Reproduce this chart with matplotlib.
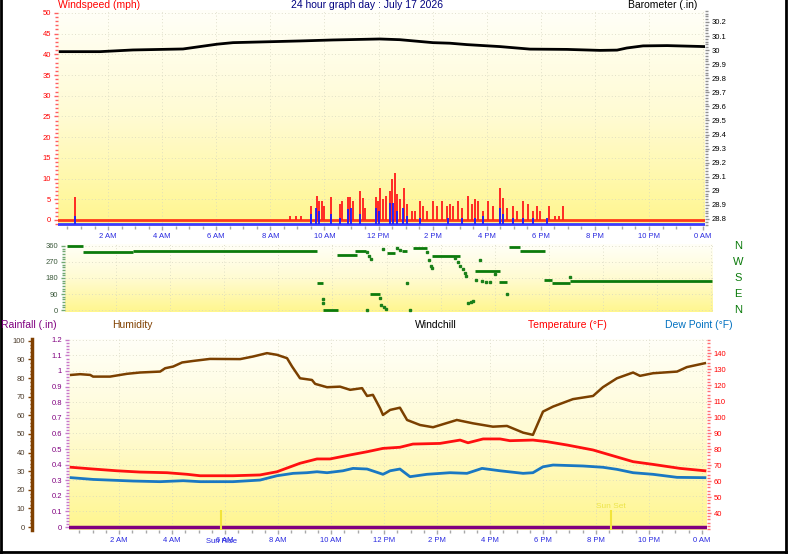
import matplotlib
matplotlib.use('Agg')
import matplotlib.pyplot as plt
import numpy as np
from matplotlib.colors import LinearSegmentedColormap
from matplotlib.ticker import MultipleLocator, FixedLocator, FuncFormatter
from matplotlib.lines import Line2D
import matplotlib.transforms as mtransforms

plt.rcParams['font.family'] = ['Liberation Sans', 'DejaVu Sans']

W, H = 798, 554

# ---- data, time in hours since midnight ----
hour_ticks = [2, 4, 6, 8, 10, 12, 14, 16, 18, 20, 22, 24]
hour_labels = ['2 AM', '4 AM', '6 AM', '8 AM', '10 AM', '12 PM',
               '2 PM', '4 PM', '6 PM', '8 PM', '10 PM', '0 AM']

baro_t = [0.23, 1.70, 2.92, 4.77, 6.03, 6.62, 9.09, 10.31, 12.05, 12.79, 14.01,
          14.64, 15.27, 16.49, 17.60, 18.97, 20.19, 20.82, 21.18, 21.78, 22.67, 24.07]
baro_v = [29.989, 29.989, 30.001, 30.008, 30.042, 30.053, 30.065, 30.072, 30.079,
          30.074, 30.053, 30.049, 30.039, 30.025, 30.007, 30.005, 29.998, 30.000,
          30.015, 30.030, 30.032, 30.025]

gust_t = [0.78, 8.73, 8.95, 9.13, 9.50, 9.73, 9.80, 9.91, 9.98, 10.24, 10.57, 10.65,
          10.87, 10.95, 11.06, 11.32, 11.43, 11.50, 11.91, 11.98, 12.05, 12.17, 12.28,
          12.43, 12.50, 12.61, 12.68, 12.79, 12.94, 13.05, 13.24, 13.35, 13.53, 13.64,
          13.79, 14.01, 14.16, 14.35, 14.53, 14.64, 14.75, 14.94, 15.09, 15.31, 15.46,
          15.57, 15.68, 15.86, 16.05, 16.23, 16.49, 16.60, 16.75, 16.97, 17.12, 17.34,
          17.53, 17.71, 17.86, 17.97, 18.30, 18.53, 18.68, 18.83]
gust_v = [5.5, 1, 1, 1, 3.4, 5.8, 4.6, 4.6, 3.4, 5.6, 3.8, 4.6, 5.6, 5.6, 4.6, 7.0,
          5.4, 3.0, 5.6, 4.6, 7.8, 5.0, 5.8, 7.0, 9.8, 11.4, 6.2, 5.0, 7.8, 3.8, 2.2,
          2.2, 4.6, 3.4, 2.2, 4.6, 3.4, 4.6, 3.4, 3.8, 3.4, 4.6, 3.0, 5.8, 3.8, 5.0,
          4.6, 2.2, 4.6, 3.4, 7.8, 5.4, 3.0, 3.4, 2.2, 4.6, 3.8, 2.2, 3.4, 2.2, 3.4,
          1, 1, 3.4]

avg_t = [0.78, 9.50, 9.69, 9.80, 10.24, 10.57, 10.87, 10.98, 11.32, 11.91, 12.02,
         12.43, 12.54, 12.68, 12.90, 13.05, 13.53, 14.57, 15.09, 15.57, 15.86, 16.49,
         16.60, 16.97, 17.34, 17.71, 18.23]
avg_v = [1.0, 1.5, 3.0, 2.2, 1.5, 0.5, 2.6, 3.0, 1.4, 3.0, 2.2, 4.0, 4.0, 2.2, 3.0,
         1.0, 0.5, 0.5, 0.5, 0.5, 1.0, 3.0, 1.4, 0.5, 0.5, 0.5, 0.5]

dir_seg_start = [0.18, 0.78, 2.62, 9.43, 9.65, 10.17, 10.83, 11.39, 12.01, 12.57,
                 12.98, 13.68, 15.27, 16.16, 16.52, 16.93, 17.82, 18.11, 18.78]
dir_seg_end = [0.78, 2.62, 9.43, 9.65, 10.20, 10.91, 11.24, 11.76, 12.31, 12.75,
               13.49, 14.71, 16.19, 16.45, 16.93, 17.86, 18.11, 18.78, 24.03]
dir_seg_deg = [357, 326, 334, 154, 0, 311, 334, 90, 319, 330, 347, 304, 218, 159,
               356, 334, 169, 154, 165]

dir_dot_t = [9.65, 9.65, 11.28, 11.35, 11.42, 11.28, 11.76, 11.79, 11.90, 11.98,
             11.87, 12.38, 12.50, 12.75, 12.87, 13.49, 13.57, 13.64, 13.68, 14.53,
             14.64, 14.71, 14.82, 14.90, 14.94, 15.01, 15.12, 15.19, 15.45, 15.31,
             15.53, 15.67, 15.82, 16.45, 18.78, 16.0]
dir_dot_deg = [62, 40, 326, 305, 287, 0, 67, 28, 15, 5, 341, 346, 338, 152, 0, 325,
               281, 250, 236, 290, 270, 245, 230, 210, 190, 40, 45, 48, 281, 169, 165,
               160, 158, 90, 187, 200]

compass = ['N', 'W', 'S', 'E', 'N']
compass_deg = [360, 270, 180, 90, 0]

hum_t = [0.19, 0.53, 0.91, 1.02, 1.66, 2.30, 2.79, 3.55, 3.74, 4.04, 4.38, 4.79, 5.43,
         6.57, 7.06, 7.58, 7.96, 8.34, 8.53, 8.83, 9.28, 9.40, 9.85, 10.34, 10.72,
         11.17, 11.36, 11.58, 11.85, 11.96, 12.23, 12.60, 12.87, 13.36, 13.85, 14.75,
         15.36, 16.11, 16.64, 17.25, 17.62, 18.00, 18.38, 19.13, 19.89, 20.26, 20.79,
         21.40, 21.66, 22.15, 23.06, 23.43, 24.11]
hum_v = [81.7, 82.1, 81.7, 80.8, 80.8, 82.3, 83.0, 83.5, 85.3, 86.2, 88.4, 89.2, 90.3,
         90.2, 91.6, 93.4, 92.5, 90.7, 86.2, 79.9, 79.0, 76.9, 75.1, 75.4, 73.7, 74.6,
         70.4, 71.0, 63.8, 60.2, 62.9, 64.1, 57.5, 54.8, 53.6, 57.5, 55.7, 53.9, 54.3,
         50.7, 49.5, 62.0, 64.7, 68.7, 70.4, 75.1, 79.9, 83.0, 81.2, 82.6, 83.5, 85.9,
         88.0]

temp_t = [0.19, 1.02, 1.92, 2.79, 3.81, 4.57, 5.06, 6.30, 7.32, 7.96, 8.83, 9.47, 9.96,
          10.72, 11.36, 11.96, 12.60, 13.09, 14.11, 14.87, 15.17, 15.74, 16.38, 16.75,
          17.62, 18.15, 18.91, 19.89, 20.53, 21.40, 22.15, 23.17, 24.11]
temp_v = [68.6, 67.5, 66.4, 65.6, 65.2, 64.2, 63.3, 63.3, 63.8, 65.8, 71.1, 73.8, 73.8,
          76.3, 78.3, 80.4, 81.1, 83.1, 83.5, 85.6, 83.9, 86.3, 86.3, 85.2, 85.6, 84.6,
          82.5, 79.4, 76.3, 72.1, 70.4, 67.9, 66.4]

dew_t = [0.19, 1.02, 2.53, 3.55, 4.42, 5.06, 6.30, 7.32, 7.96, 8.57, 9.09, 9.47, 9.85,
         10.45, 10.83, 11.36, 11.96, 12.23, 12.60, 12.98, 13.62, 14.49, 15.13, 15.70,
         16.38, 17.25, 17.62, 18.00, 18.38, 19.51, 20.26, 20.79, 21.40, 22.15, 23.06,
         24.11]
dew_v = [62.1, 61.0, 60.0, 59.6, 60.2, 59.6, 59.6, 60.6, 63.3, 64.8, 65.2, 65.8, 65.2,
         66.4, 67.9, 67.5, 64.2, 66.4, 67.5, 62.7, 64.2, 65.2, 64.8, 67.9, 66.4, 64.8,
         65.2, 68.9, 70.0, 69.4, 68.6, 67.3, 65.2, 64.2, 62.3, 62.1]

rain_t = [0.11, 24.19]
rain_v = [0.0, 0.0]

sunrise = 5.85
sunset = 20.57

TICK_BLUE = '#2828e0'
FS = 5.5


def px_rect(left, top, right, bottom):
    return [left / W, 1 - bottom / H, (right - left) / W, (bottom - top) / H]


bg_cmap = LinearSegmentedColormap.from_list('bg', ['#fffff8', '#fffbd2', '#fff68e'])


def background(ax):
    ax.imshow(np.linspace(0, 1, 256).reshape(-1, 1), cmap=bg_cmap, aspect='auto',
              extent=[0, 1, 0, 1], transform=ax.transAxes, zorder=0,
              interpolation='bilinear')
    for s in ax.spines.values():
        s.set_visible(False)
    ax.grid(True, which='major', color='#d6d6c0', linestyle=(0, (1, 3)), linewidth=0.6)


def hour_axis(ax, labels=True):
    ax.xaxis.set_major_locator(FixedLocator(hour_ticks))
    if labels:
        ax.set_xticklabels(hour_labels)
    else:
        ax.set_xticklabels([])
    ax.xaxis.set_minor_locator(MultipleLocator(0.5))
    ax.tick_params(axis='x', which='both', colors='#a8a8a8', labelcolor=TICK_BLUE,
                   labelsize=FS, length=3, width=1, pad=2)
    ax.tick_params(axis='x', which='minor', length=2)


fig = plt.figure(figsize=(W / 100, H / 100), dpi=100)

# ---- top panel: wind speed + barometer ----
ax1 = fig.add_axes(px_rect(58, 10, 705, 226))
background(ax1)
ax1.axhline(0, color='#ff3a1a', lw=2, zorder=2)
ax1.axhline(-0.87, color='#3c3cff', lw=2, zorder=2)
ax1.vlines(gust_t, 0, gust_v, color='#ff1a1a', lw=1.3, zorder=3)
ax1.vlines(avg_t, -0.87, avg_v, color='#1a1aff', lw=1.3, zorder=4)
ax1.set_xlim(0.15, 24.07)
ax1.set_ylim(-1.45, 50.7)
ax1.yaxis.set_major_locator(FixedLocator(range(0, 51, 5)))
ax1.yaxis.set_minor_locator(MultipleLocator(1))
ax1.tick_params(axis='y', which='both', colors='#ff6060', labelcolor='#ff0000',
                labelsize=FS, length=3, width=1, pad=2)
ax1.tick_params(axis='y', which='minor', length=2)
hour_axis(ax1)

ax1b = ax1.twinx()
for s in ax1b.spines.values():
    s.set_visible(False)
ax1b.plot(baro_t, baro_v, color='black', lw=2)
ax1b.set_ylim(28.75, 30.285)
ax1b.yaxis.set_major_locator(FixedLocator([round(28.8 + 0.1 * i, 1) for i in range(15)]))
ax1b.yaxis.set_major_formatter(FuncFormatter(lambda v, p: f'{v:g}'))
ax1b.yaxis.set_minor_locator(MultipleLocator(0.02))
ax1b.tick_params(axis='y', which='both', colors='#909090', labelcolor='black',
                 labelsize=FS, length=3, width=1, pad=2)
ax1b.tick_params(axis='y', which='minor', length=2)

# ---- middle panel: wind direction ----
ax2 = fig.add_axes(px_rect(65, 244, 713, 312))
background(ax2)
ax2.hlines(dir_seg_deg, dir_seg_start, dir_seg_end, color='#0b7a0b', lw=2, zorder=3)
ax2.plot(dir_dot_t, dir_dot_deg, 's', ms=1.8, color='#1a801a', zorder=3)
ax2.set_xlim(0.11, 24.07)
ax2.set_ylim(-11, 371)
ax2.yaxis.set_major_locator(FixedLocator([0, 90, 180, 270, 360]))
ax2.yaxis.set_minor_locator(MultipleLocator(15))
ax2.tick_params(axis='y', which='both', colors='#70a870', labelcolor='#3c5a3c',
                labelsize=FS, length=3, width=1, pad=2)
ax2.tick_params(axis='y', which='minor', length=2)
ax2.xaxis.set_major_locator(FixedLocator(hour_ticks))
ax2.tick_params(axis='x', length=0, labelbottom=False)
for lab, d in zip(compass, compass_deg):
    ax2.text(1.0386, d, lab, transform=ax2.get_yaxis_transform(), color='#0b7a0b',
             fontsize=8, ha='center', va='center')

# ---- bottom panel: rain, humidity, temperature, dew point ----
ax3 = fig.add_axes(px_rect(69, 339, 707, 530))
background(ax3)
ax3.plot(rain_t, rain_v, color='#800080', lw=2.5, zorder=3)
ax3.vlines([sunrise, sunset], -0.019, 0.11, color='#f2e43a', lw=1.5, zorder=3)
ax3.set_xlim(0.11, 24.19)
ax3.set_ylim(-0.019, 1.205)
ax3.yaxis.set_major_locator(FixedLocator([round(0.1 * i, 1) for i in range(13)]))
ax3.yaxis.set_major_formatter(FuncFormatter(lambda v, p: f'{v:g}'))
ax3.yaxis.set_minor_locator(MultipleLocator(0.02))
ax3.tick_params(axis='y', which='both', colors='#c878c8', labelcolor='#800080',
                labelsize=FS, length=3, width=1, pad=2)
ax3.tick_params(axis='y', which='minor', length=2)
hour_axis(ax3)
ax3.text(sunrise, -0.058, 'Sun Rise', transform=ax3.get_xaxis_transform(),
         color=TICK_BLUE, fontsize=FS, ha='center', va='center')
ax3.text(sunset, 0.13, 'Sun Set', color='#ece44a', fontsize=FS + 0.5,
         ha='center', va='center')

ax3h = ax3.twinx()
for s in ax3h.spines.values():
    s.set_visible(False)
ax3h.spines['left'].set_visible(True)
ax3h.spines['left'].set_position(('outward', 26.6))
ax3h.spines['left'].set_color('#804000')
ax3h.spines['left'].set_linewidth(2.5)
ax3h.yaxis.tick_left()
ax3h.plot(hum_t, hum_v, color='#7b4000', lw=1.8)
ax3h.set_ylim(-1.6, 101)
ax3h.yaxis.set_major_locator(FixedLocator(range(0, 101, 10)))
ax3h.yaxis.set_minor_locator(MultipleLocator(2))
ax3h.tick_params(axis='y', which='both', colors='#804000', labelcolor='#4a3a2a',
                 labelsize=FS, length=3, width=1, pad=2)
ax3h.tick_params(axis='y', which='minor', length=1.5)

ax3t = ax3.twinx()
for s in ax3t.spines.values():
    s.set_visible(False)
ax3t.plot(temp_t, temp_v, color='#ff1010', lw=2)
ax3t.plot(dew_t, dew_v, color='#1a78c2', lw=2)
ax3t.set_ylim(29.4, 148.75)
ax3t.yaxis.set_major_locator(FixedLocator(range(40, 141, 10)))
ax3t.yaxis.set_minor_locator(MultipleLocator(2))
ax3t.tick_params(axis='y', which='both', colors='#ff7070', labelcolor='#ff0000',
                 labelsize=FS, length=3, width=1, pad=2)
ax3t.tick_params(axis='y', which='minor', length=2)

# ---- titles ----
def head(x, y, s, c, ha='left'):
    fig.text(x / W, 1 - y / H, s, color=c, fontsize=7.5, ha=ha, va='center')


head(58, 5, 'Windspeed (mph)', '#ff0000')
head(367, 5, '24 hour graph day : July 17 2026', '#000080', ha='center')
head(628, 5, 'Barometer (.in)', 'black')
head(1, 325, 'Rainfall (.in)', '#800080')
head(112, 325, 'Humidity', '#804000')
head(415, 325, 'Windchill', 'black')
head(528, 325, 'Temperature (°F)', '#ff0000')
head(665, 325, 'Dew Point (°F)', '#0070c0')

# frame
fig.add_artist(Line2D([1 / W, 1 / W], [0, 1], color='black', lw=2, transform=fig.transFigure))
fig.add_artist(Line2D([786 / W, 786 / W], [1 - 552 / H, 1], color='black', lw=2,
                      transform=fig.transFigure))
fig.add_artist(Line2D([0, 786 / W], [1 - 552 / H, 1 - 552 / H], color='black', lw=2,
                      transform=fig.transFigure))

fig.savefig('out.png', dpi=100)
